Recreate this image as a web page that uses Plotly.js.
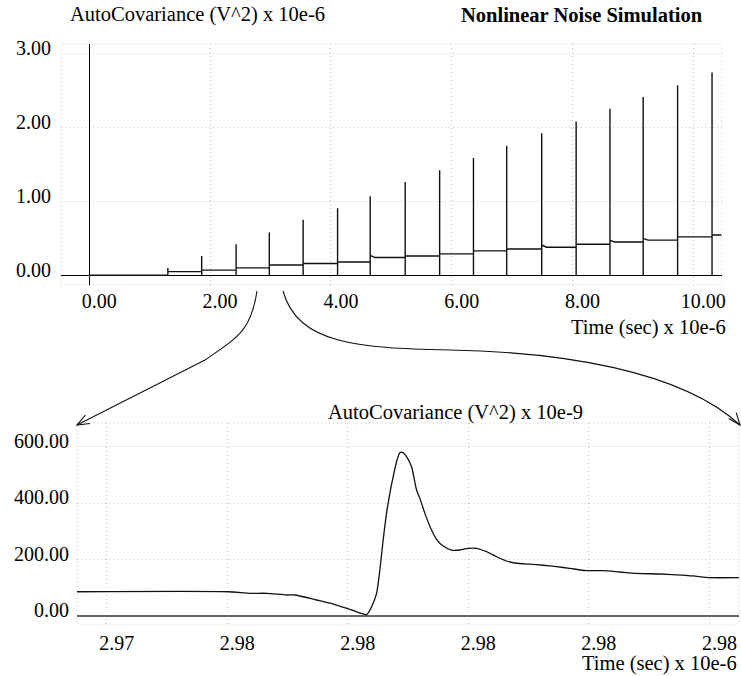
<!DOCTYPE html>
<html>
<head>
<meta charset="utf-8">
<script src="https://cdn.plot.ly/plotly-3.0.1.min.js"></script>
<style>html,body{margin:0;padding:0;background:#fff;}#chart{width:741px;height:676px;}</style>
</head>
<body>
<div id="chart"></div>
<script>
// ---- Top panel data (Time x 10e-6, AutoCovariance x 10e-6) ----
const spikeTimes = [1.30, 1.86, 2.43, 2.98, 3.54, 4.11, 4.65, 5.23, 5.80, 6.36, 6.91, 7.49, 8.06, 8.62, 9.17, 9.74, 10.31];
const spikePeaks = [0.10, 0.26, 0.42, 0.58, 0.75, 0.905, 1.07, 1.26, 1.42, 1.585, 1.75, 1.92, 2.08, 2.25, 2.41, 2.57, 2.74];
const stepStart  = [0.05, 0.07, 0.10, 0.14, 0.16, 0.18, 0.27, 0.26, 0.29, 0.33, 0.355, 0.41, 0.42, 0.47, 0.50, 0.52, 0.545];
const stepLevels = [0.05, 0.07, 0.10, 0.14, 0.16, 0.18, 0.24, 0.26, 0.29, 0.33, 0.355, 0.38, 0.42, 0.45, 0.475, 0.52, 0.545];
const topEndTime = 10.47;
const topXTicks = [0, 2, 4, 6, 8, 10];
const topYTicks = [0, 1, 2, 3];

// ---- Bottom panel data (Time x 10e-6, AutoCovariance x 10e-9) ----
const zoomTime = [2.973507, 2.976007, 2.976376, 2.976653, 2.976985, 2.977123, 2.977483, 2.977758, 2.978035, 2.978312,
  2.978367, 2.978421, 2.978478, 2.978532, 2.978587, 2.978643, 2.978698, 2.978753, 2.978809, 2.978864,
  2.978919, 2.978975, 2.979058, 2.979141, 2.979196, 2.979279, 2.97939, 2.979473, 2.979582, 2.979721,
  2.979859, 2.979997, 2.980136, 2.980302, 2.980468, 2.980633, 2.980799, 2.98102, 2.98124, 2.981463,
  2.981683, 2.98196, 2.982235, 2.982512, 2.982789, 2.983176, 2.983453, 2.983728, 2.984005, 2.984491];
const zoomCov = [86, 86, 80.5, 80.5, 74.5, 74.5, 56.7, 42.5, 23.6, 5,
  21, 45, 80, 163, 270, 364, 435, 494, 547, 579,
  579, 565, 529, 447, 417, 364, 305, 272, 248, 234,
  234, 240, 240, 228, 210, 195, 187, 184, 180, 175,
  169, 161, 161, 156, 151, 149, 146, 142, 136, 136];
const zoomXTicks = [2.974, 2.976, 2.978, 2.980, 2.982, 2.984];
const zoomYTicks = [0, 200, 400, 600];

// build the top signal polyline from the arrays
const topX = [0], topY = [0];
let prev = 0;
for (let k = 0; k < spikeTimes.length; k++) {
  const t = spikeTimes[k];
  topX.push(t, t, t, t, t + 0.08);
  topY.push(prev, 0, spikePeaks[k], stepStart[k], stepLevels[k]);
  prev = stepLevels[k];
}
topX.push(topEndTime); topY.push(prev);

const W = 741, H = 676;
const PX = (x) => x / W, PY = (y) => 1 - y / H;
const FONT = 'Liberation Serif';

function axisBase() {
  return {
    showgrid: true, gridcolor: '#c8c8c8', gridwidth: 1, griddash: '1px,3px',
    showline: false, ticks: '', tickformat: '.2f', tickmode: 'array',
    tickfont: {family: FONT, size: 20, color: '#000'}
  };
}

const data = [
  {x: topX, y: topY, type: 'scatter', mode: 'lines', xaxis: 'x', yaxis: 'y',
   line: {color: '#111', width: 1.4}, hoverinfo: 'skip'},
  {x: zoomTime, y: zoomCov, type: 'scatter', mode: 'lines', xaxis: 'x2', yaxis: 'y2',
   line: {color: '#111', width: 1.3, shape: 'spline', smoothing: 0.6}, hoverinfo: 'skip'}
];

function path(pts) {
  let s = 'M ' + PX(pts[0][0]) + ',' + PY(pts[0][1]);
  for (let i = 1; i < pts.length; i += 3) {
    s += ' C ' + PX(pts[i][0]) + ',' + PY(pts[i][1]) + ' ' + PX(pts[i+1][0]) + ',' + PY(pts[i+1][1]) + ' ' + PX(pts[i+2][0]) + ',' + PY(pts[i+2][1]);
  }
  return s;
}
function head(tip, from, len, ang) {
  const dx = tip[0] - from[0], dy = tip[1] - from[1];
  const a = Math.atan2(dy, dx);
  const p1 = [tip[0] - len * Math.cos(a - ang), tip[1] - len * Math.sin(a - ang)];
  const p2 = [tip[0] - len * Math.cos(a + ang), tip[1] - len * Math.sin(a + ang)];
  return 'M ' + PX(p1[0]) + ',' + PY(p1[1]) + ' L ' + PX(tip[0]) + ',' + PY(tip[1]) + ' L ' + PX(p2[0]) + ',' + PY(p2[1]);
}
const rightArrow = [[283, 291], [298, 345], [360, 348], [450, 350], [560, 352], [680, 370], [740, 425]];
const arrowLine = {color: '#111', width: 1.1};

const shapes = [
  {type: 'rect', xref: 'x domain', yref: 'y domain', x0: 0, x1: 1, y0: 0, y1: 1,
   line: {color: '#c8c8c8', width: 1, dash: '1px,3px'}, layer: 'below'},
  {type: 'rect', xref: 'x2 domain', yref: 'y2 domain', x0: 0, x1: 1, y0: 0, y1: 1,
   line: {color: '#c8c8c8', width: 1, dash: '1px,3px'}, layer: 'below'},
  {type: 'path', xref: 'paper', yref: 'paper', path: path([[257,291],[251,330],[240,336],[205,360]]) + ' L ' + PX(77) + ',' + PY(425), line: arrowLine},
  {type: 'path', xref: 'paper', yref: 'paper', path: path(rightArrow), line: arrowLine},
  {type: 'path', xref: 'paper', yref: 'paper', path: head([77,425], [90,418], 13, 0.38), line: arrowLine},
  {type: 'path', xref: 'paper', yref: 'paper', path: head([740,425], [728,410], 13, 0.38), line: arrowLine}
];

const ann = (text, x, y, xa, ya) => ({
  text: text, xref: 'paper', yref: 'paper', x: PX(x), y: PY(y), xanchor: xa, yanchor: ya,
  showarrow: false, font: {family: FONT, size: 20.5, color: '#000'}
});

const xa = axisBase(), ya = axisBase(), xb = axisBase(), yb = axisBase();
Object.assign(xa, {
  domain: [PX(61), PX(721.7)], range: [-0.469, 10.47], tickvals: topXTicks,
  zeroline: true, zerolinecolor: '#000', zerolinewidth: 1.2,
  ticklabelshift: 10, ticklabelstandoff: 2, anchor: 'y'
});
Object.assign(ya, {
  domain: [PY(285), PY(44)], range: [-0.131, 3.126], tickvals: topYTicks,
  zeroline: true, zerolinecolor: '#000', zerolinewidth: 1.2,
  ticklabelshift: -5, ticklabelstandoff: 9, anchor: 'x'
});
Object.assign(xb, {
  domain: [PX(77), PX(739)], range: [2.973507, 2.984491], tickvals: zoomXTicks,
  zeroline: false, ticklabelshift: 10, ticklabelstandoff: 5, anchor: 'y2'
});
Object.assign(yb, {
  domain: [PY(624), PY(423)], range: [-28.4, 684.4], tickvals: zoomYTicks,
  zeroline: true, zerolinecolor: '#666', zerolinewidth: 1.8,
  ticklabelshift: -6, ticklabelstandoff: 7, anchor: 'x2'
});

const layout = {
  width: W, height: H,
  margin: {l: 0, r: 0, t: 0, b: 0},
  font: {family: FONT, size: 20, color: '#000'},
  paper_bgcolor: '#fff', plot_bgcolor: '#fff',
  showlegend: false,
  xaxis: xa, yaxis: ya, xaxis2: xb, yaxis2: yb,
  shapes: shapes,
  annotations: [
    ann('AutoCovariance (V^2) x 10e-6', 68, 15, 'left', 'middle'),
    ann('<b>Nonlinear Noise Simulation</b>', 705, 15, 'right', 'middle'),
    ann('Time (sec) x 10e-6', 728, 327, 'right', 'middle'),
    ann('AutoCovariance (V^2) x 10e-9', 455, 413, 'center', 'middle'),
    ann('Time (sec) x 10e-6', 739, 663, 'right', 'middle')
  ]
};

Plotly.newPlot('chart', data, layout, {staticPlot: true, displayModeBar: false});
</script>
</body>
</html>
